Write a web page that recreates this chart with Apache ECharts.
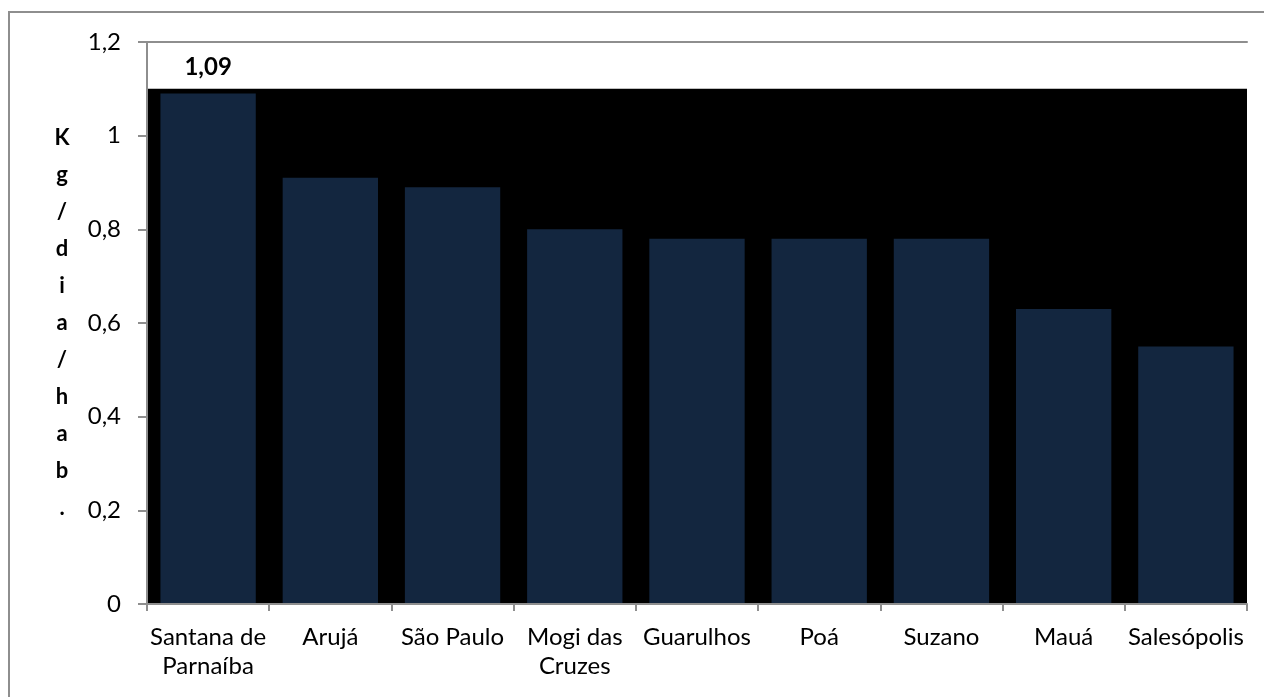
<!DOCTYPE html>
<html>
<head>
<meta charset="utf-8">
<style>
  html, body { margin: 0; padding: 0; background: #ffffff; }
  #chart { width: 1264px; height: 697px; }
</style>
<script src="https://cdn.jsdelivr.net/npm/echarts@6/dist/echarts.min.js"></script>
</head>
<body>
<div id="chart"></div>
<script>
// Geração per capita de resíduos por município (kg/dia/hab.)
const municipios = ['Santana de\nParnaíba', 'Arujá', 'São Paulo', 'Mogi das\nCruzes', 'Guarulhos', 'Poá', 'Suzano', 'Mauá', 'Salesópolis'];
const kgDiaHab = [1.09, 0.91, 0.89, 0.80, 0.78, 0.78, 0.78, 0.63, 0.55];
const rotulados = [0];            // bars whose value is written above them
const eixoY = { min: 0, max: 1.2, interval: 0.2 };
const faixaEscura = [0, 1.1];     // dark backdrop band behind the bars
const nomeEixoY = 'Kg/dia/hab.';

const gray = '#8e8e8e';
const fonte = 'Lato, "Noto Sans", sans-serif';
const virgula = v => String(+v.toFixed(2)).replace('.', ',');

const chart = echarts.init(document.getElementById('chart'), null, { renderer: 'canvas' });

chart.setOption({
  backgroundColor: '#ffffff',
  animation: false,
  textStyle: { fontFamily: fonte, color: '#000' },
  graphic: [{
    type: 'rect',
    shape: { x: 9, y: 12, width: 1400, height: 800 },
    style: { fill: 'none', stroke: gray, lineWidth: 2 },
    silent: true,
    z: 0
  }],
  grid: { left: 147, right: 17, top: 42, bottom: 93, containLabel: false },
  xAxis: [{
    type: 'category',
    data: municipios,
    z: 3,
    axisLine: { lineStyle: { color: gray, width: 2 } },
    axisTick: { show: true, length: 7, lineStyle: { color: gray, width: 2 } },
    axisLabel: {
      interval: 0,
      margin: 19,
      fontSize: 24,
      lineHeight: 29,
      color: '#000',
      fontFamily: fonte
    },
    splitLine: { show: false }
  }, {
    // top edge of the plot area
    type: 'category',
    data: municipios,
    position: 'top',
    z: 3,
    axisLine: { show: true, lineStyle: { color: gray, width: 2 } },
    axisTick: { show: false },
    axisLabel: { show: false },
    splitLine: { show: false }
  }],
  yAxis: {
    type: 'value',
    min: eixoY.min,
    max: eixoY.max,
    interval: eixoY.interval,
    z: 3,
    name: nomeEixoY.split('').join('\n'),
    nameLocation: 'middle',
    nameRotate: 0,
    nameGap: 85,
    nameTextStyle: {
      align: 'center',
      fontSize: 22,
      fontWeight: 'bold',
      lineHeight: 37,
      color: '#000',
      fontFamily: fonte
    },
    axisLine: { show: true, lineStyle: { color: gray, width: 2 } },
    axisTick: { show: true, length: 9, lineStyle: { color: gray, width: 2 } },
    axisLabel: {
      margin: 26,
      fontSize: 24,
      color: '#000',
      formatter: v => virgula(v),
      fontFamily: fonte
    },
    splitLine: { show: false }
  },
  series: [{
    type: 'bar',
    xAxisIndex: 0,
    barWidth: '78%',
    itemStyle: { color: '#13263f' },
    data: kgDiaHab.map((v, i) => rotulados.includes(i)
      ? { value: v, label: { show: true } }
      : v),
    label: {
      show: false,
      position: 'top',
      distance: 14,
      fontSize: 24,
      fontWeight: 'bold',
      color: '#000',
      fontFamily: fonte,
      formatter: p => virgula(p.value)
    },
    markArea: {
      silent: true,
      itemStyle: { color: '#000000' },
      label: { show: false },
      data: [[{ yAxis: faixaEscura[0] }, { yAxis: faixaEscura[1] }]]
    }
  }]
});
</script>
</body>
</html>
